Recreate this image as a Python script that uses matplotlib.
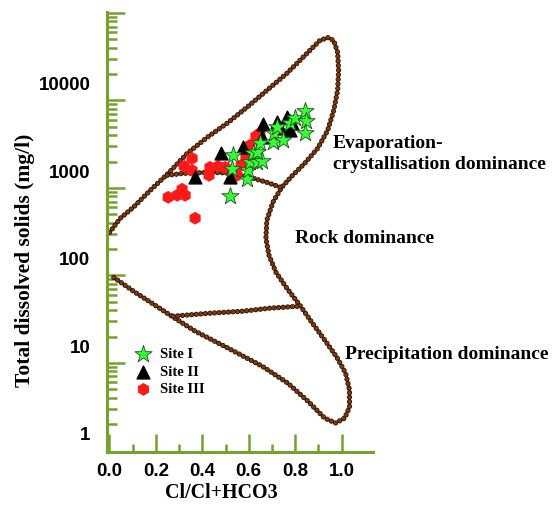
import numpy as np
import matplotlib
matplotlib.use("Agg")
import matplotlib.pyplot as plt
from matplotlib.ticker import FixedLocator, NullFormatter, NullLocator

# Gibbs boundary (outer envelope), x = Cl/(Cl+HCO3), y = TDS mg/l
outer_x = [0.0, 0.047, 0.103, 0.176, 0.253, 0.335, 0.421, 0.506, 0.592, 0.678,
           0.764, 0.850, 0.906, 0.940, 0.966, 0.983, 0.987, 0.983, 0.966, 0.940,
           0.897, 0.841, 0.785, 0.742, 0.704, 0.678, 0.674, 0.687, 0.717, 0.764,
           0.820, 0.871, 0.927, 0.979, 1.017, 1.034, 1.034, 1.013, 0.974, 0.927,
           0.854, 0.768, 0.657, 0.511, 0.369, 0.275, 0.176, 0.103, 0.017, 0.005]
outer_tds = [200, 291, 388, 607, 948, 1603, 2444, 3532, 5380, 8410,
             13150, 22200, 31250, 33800, 31250, 22800, 14220, 8410, 4966, 2938,
             1833, 1233, 877, 656, 443, 276, 172, 110, 70.3, 46.1,
             29.5, 18.9, 11.8, 7.53, 4.94, 3.16, 2.02, 1.51, 1.33, 1.51,
             2.37, 3.80, 5.94, 9.53, 14.9, 21.5, 32.0, 42.7, 61.7, 63]

# upper divider (evaporation / rock)
upper_x = [0.249, 0.318, 0.446, 0.532, 0.605, 0.678, 0.742]
upper_tds = [900, 948, 975, 948, 855, 748, 650]

# lower divider (rock / precipitation)
lower_x = [0.275, 0.433, 0.575, 0.691, 0.824]
lower_tds = [22.1, 23.9, 25.2, 27.3, 28.8]

site1_x = [0.519, 0.528, 0.532, 0.592, 0.597, 0.605, 0.618, 0.635, 0.657, 0.635,
           0.648, 0.704, 0.708, 0.747, 0.721, 0.777, 0.798, 0.841, 0.845, 0.841]
site1_tds = [519, 1054, 1524, 811, 1026, 1268, 1603, 1268, 1300, 1648,
             2089, 2148, 2716, 2259, 3177, 3532, 4027, 4842, 3724, 2716]

site2_x = [0.369, 0.481, 0.519, 0.575, 0.657, 0.661, 0.721, 0.734, 0.764, 0.777, 0.785]
site2_tds = [855, 1603, 855, 1880, 2444, 3443, 3631, 3098, 4130, 2938, 3532]

site3_x = [0.356, 0.322, 0.356, 0.433, 0.468, 0.498, 0.429, 0.549, 0.567, 0.588,
           0.605, 0.631, 0.648, 0.253, 0.292, 0.313, 0.326, 0.369]
site3_tds = [1406, 1140, 1026, 1111, 1140, 1111, 900, 900, 1170, 1483,
             1982, 2513, 2716, 505, 532, 624, 532, 291]

xticks = [0.0, 0.2, 0.4, 0.6, 0.8, 1.0]
xlabels = ["0.0", "0.2", "0.4", "0.6", "0.8", "1.0"]
yticks = [1, 10, 100, 1000, 10000]
ylabels = ["1", "10", "100", "1000", "10000"]

green = "#76a12c"
plt.rcParams["lines.scale_dashes"] = False

fig = plt.figure(figsize=(5.55, 5.05), dpi=100)
ax = fig.add_axes([0.193, 0.105, 0.479, 0.871])
ax.set_yscale("log")
ax.set_xlim(-0.01, 1.135)
ax.set_ylim(0.62, 66000)

# dotted boundary lines (dark rim + brown dot)
for xs, ys in [(outer_x, outer_tds), (upper_x, upper_tds), (lower_x, lower_tds)]:
    ax.plot(xs, ys, color="#2a1004", lw=3.8, ls=(0, (0.01, 3.3)),
            dash_capstyle="round", zorder=2)
    ax.plot(xs, ys, color="#7b3a10", lw=2.7, ls=(0, (0.01, 3.3)),
            dash_capstyle="round", zorder=2)

h3 = ax.scatter(site3_x, site3_tds, marker="h", s=85, c="#ff1a1a", edgecolors="none", zorder=3)
h2 = ax.scatter(site2_x, site2_tds, marker="^", s=85, c="black", zorder=4)
h1 = ax.scatter(site1_x, site1_tds, marker="*", s=170, c="#33ff33",
                edgecolors="#1f4f1f", linewidths=0.6, zorder=5)

leg = ax.legend([h1, h2, h3], ["Site I", "Site II", "Site III"], loc="upper left",
                bbox_to_anchor=(0.06, 0.25), frameon=False, handletextpad=0.1,
                labelspacing=0.3, borderaxespad=0, scatterpoints=1,
                prop={"family": "Liberation Serif", "weight": "bold", "size": 10.5})

serif = {"family": "Liberation Serif", "weight": "bold", "size": 14}
ax.text(0.961, 1585, "Evaporation-\ncrystallisation dominance", ha="left", va="center",
        linespacing=1.35, fontdict=serif)
ax.text(0.798, 172, "Rock dominance", ha="left", va="center", fontdict=serif)
ax.text(1.013, 8.15, "Precipitation dominance", ha="left", va="center", fontdict=serif)

# axes styling
for s in ["top", "right"]:
    ax.spines[s].set_visible(False)
for s in ["left", "bottom"]:
    ax.spines[s].set_color(green)
    ax.spines[s].set_linewidth(2.2)

off = -0.19
long_ticks = [10 ** (k + off) for k in range(1, 6)]
short_ticks = [m * 10 ** (k + off) for k in range(0, 5) for m in range(2, 10)]
ax.yaxis.set_major_locator(FixedLocator(long_ticks))
ax.yaxis.set_minor_locator(FixedLocator(short_ticks))
ax.yaxis.set_major_formatter(NullFormatter())
ax.yaxis.set_minor_formatter(NullFormatter())
ax.tick_params(axis="y", which="major", direction="in", length=13, width=1.8, color=green)
ax.tick_params(axis="y", which="minor", direction="in", length=7, width=1.8, color=green)

ax.set_xticks(xticks, labels=xlabels)
ax.set_xticks([0.1, 0.3, 0.5, 0.7, 0.9], minor=True)
ax.tick_params(axis="x", which="major", direction="in", length=13, width=1.8,
               color=green, pad=8)
ax.tick_params(axis="x", which="minor", direction="in", length=6, width=1.8, color=green)
for t in ax.get_xticklabels():
    t.set_fontfamily("Liberation Sans")
    t.set_fontweight("bold")
    t.set_fontsize(13.5)

sec = ax.secondary_yaxis("left")
sec.set_yticks(yticks, labels=ylabels)
sec.yaxis.set_minor_locator(NullLocator())
sec.spines["left"].set_visible(False)
sec.tick_params(length=0, pad=12)
for t in sec.get_yticklabels():
    t.set_fontfamily("Liberation Sans")
    t.set_fontweight("bold")
    t.set_fontsize(13.5)

ax.set_xlabel("Cl/Cl+HCO3", family="Liberation Serif", weight="bold", size=14.4)
ax.xaxis.set_label_coords(0.43, -0.07)
ax.set_ylabel("Total dissolved solids (mg/l)", family="Liberation Serif", weight="bold",
              size=15.5)
ax.yaxis.set_label_coords(-0.27, 0.436)

fig.savefig("out.png", dpi=100)
